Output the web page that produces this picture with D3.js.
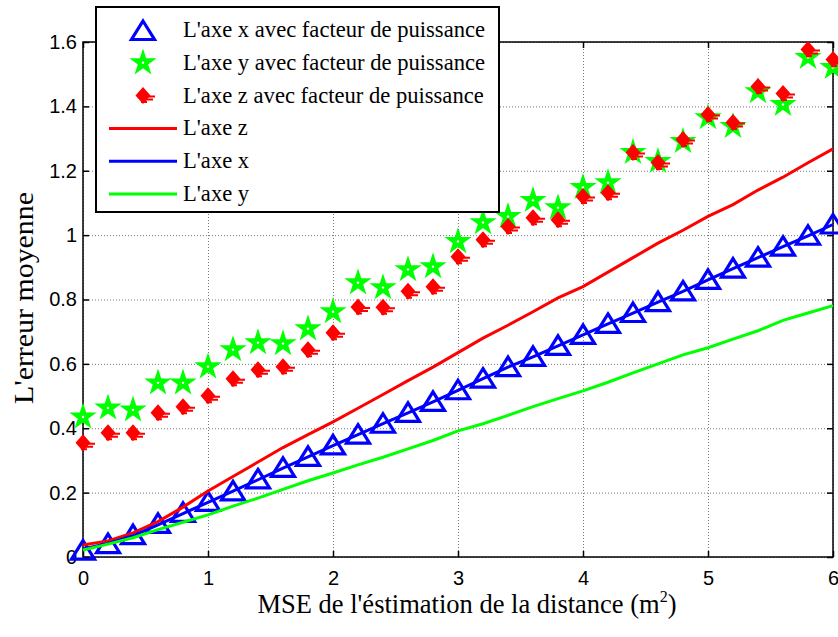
<!DOCTYPE html>
<html>
<head>
<meta charset="utf-8">
<script src="https://cdn.jsdelivr.net/npm/d3@7"></script>
<style>
  body { margin: 0; background: #fff; }
</style>
</head>
<body>
<script>
// x positions (MSE) shared by all series
const mseValues = [0, 0.2, 0.4, 0.6, 0.8, 1, 1.2, 1.4, 1.6, 1.8, 2, 2.2, 2.4, 2.6, 2.8, 3,
    3.2, 3.4, 3.6, 3.8, 4, 4.2, 4.4, 4.6, 4.8, 5, 5.2, 5.4, 5.6, 5.8, 6];

// markers "avec facteur de puissance"
const xPuissance = [0.02, 0.04, 0.068, 0.103, 0.137, 0.171, 0.204, 0.241, 0.277, 0.311, 0.347, 0.38,
    0.414, 0.448, 0.482, 0.518, 0.554, 0.59, 0.622, 0.656, 0.69, 0.724, 0.758, 0.792, 0.825, 0.861,
    0.896, 0.93, 0.964, 0.998, 1.033];
const yPuissance = [0.435, 0.463, 0.457, 0.541, 0.541, 0.591, 0.644, 0.666, 0.663, 0.709, 0.762, 0.852,
    0.837, 0.893, 0.902, 0.98, 1.039, 1.058, 1.108, 1.085, 1.148, 1.163, 1.257, 1.229, 1.291, 1.365,
    1.338, 1.446, 1.406, 1.552, 1.521];
const zPuissance = [0.355, 0.386, 0.386, 0.448, 0.467, 0.501, 0.554, 0.582, 0.591, 0.644, 0.697, 0.777,
    0.776, 0.826, 0.84, 0.933, 0.986, 1.027, 1.054, 1.048, 1.12, 1.132, 1.257, 1.226, 1.297, 1.375,
    1.35, 1.462, 1.44, 1.577, 1.546];

// lines
const zLine = [0.037, 0.05, 0.075, 0.11, 0.155, 0.205, 0.25, 0.295, 0.34, 0.38, 0.42, 0.462, 0.505,
    0.548, 0.59, 0.635, 0.68, 0.72, 0.762, 0.805, 0.84, 0.885, 0.93, 0.975, 1.015, 1.058, 1.095, 1.14,
    1.18, 1.225, 1.268];
const xLine = [0.025, 0.042, 0.066, 0.1, 0.135, 0.17, 0.205, 0.24, 0.276, 0.311, 0.346, 0.38, 0.414,
    0.448, 0.482, 0.518, 0.554, 0.59, 0.622, 0.656, 0.69, 0.724, 0.758, 0.792, 0.825, 0.861, 0.896,
    0.93, 0.964, 0.998, 1.033];
const yLine = [0.022, 0.04, 0.06, 0.085, 0.108, 0.131, 0.158, 0.183, 0.21, 0.237, 0.261, 0.286, 0.31,
    0.336, 0.362, 0.392, 0.414, 0.44, 0.467, 0.492, 0.516, 0.543, 0.572, 0.6, 0.628, 0.65, 0.677,
    0.703, 0.735, 0.758, 0.781];

// ticks
const xTicks = [0, 1, 2, 3, 4, 5, 6];
const xTickLabels = ["0", "1", "2", "3", "4", "5", "6"];
const yTicks = [0, 0.2, 0.4, 0.6, 0.8, 1, 1.2, 1.4, 1.6];
const yTickLabels = ["0", "0.2", "0.4", "0.6", "0.8", "1", "1.2", "1.4", "1.6"];

const legendLabels = [
    "L'axe x avec facteur de puissance",
    "L'axe y avec facteur de puissance",
    "L'axe z avec facteur de puissance",
    "L'axe z",
    "L'axe x",
    "L'axe y"
];

const width = 838;
const height = 637;
const plotLeft = 83, plotRight = 833, plotTop = 42, plotBottom = 557;

const RED = "#ff0000", BLUE = "#0000ff", GREEN = "#00ff00";
const serif = "'Liberation Serif', 'DejaVu Serif', serif";
const sans = "'Liberation Sans', Arial, sans-serif";

const svg = d3.select("body").append("svg")
    .attr("width", width)
    .attr("height", height);

const x = d3.scaleLinear().domain([0, 6]).range([plotLeft, plotRight]);
const y = d3.scaleLinear().domain([0, 1.6]).range([plotBottom, plotTop]);

// grid (dotted)
svg.append("g")
    .attr("transform", `translate(0,${plotBottom})`)
    .call(d3.axisBottom(x).tickValues(xTicks).tickSize(-(plotBottom - plotTop)).tickFormat(""))
    .call(g => g.select(".domain").remove())
    .selectAll("line").attr("stroke", "#777").attr("stroke-dasharray", "1,2");
svg.append("g")
    .attr("transform", `translate(${plotLeft},0)`)
    .call(d3.axisLeft(y).tickValues(yTicks).tickSize(-(plotRight - plotLeft)).tickFormat(""))
    .call(g => g.select(".domain").remove())
    .selectAll("line").attr("stroke", "#777").attr("stroke-dasharray", "1,2");

// axes with inward ticks on all sides
svg.append("g")
    .attr("transform", `translate(0,${plotBottom})`)
    .call(d3.axisBottom(x).tickValues(xTicks).tickSize(-6).tickPadding(14)
        .tickFormat((d, i) => xTickLabels[i]));
svg.append("g")
    .attr("transform", `translate(${plotLeft},0)`)
    .call(d3.axisLeft(y).tickValues(yTicks).tickSize(-6).tickPadding(6)
        .tickFormat((d, i) => yTickLabels[i]));
svg.append("g")
    .attr("transform", `translate(0,${plotTop})`)
    .call(d3.axisTop(x).tickValues(xTicks).tickSize(-6).tickFormat(""));
svg.append("g")
    .attr("transform", `translate(${plotRight},0)`)
    .call(d3.axisRight(y).tickValues(yTicks).tickSize(-6).tickFormat(""));

svg.selectAll(".tick text")
    .attr("font-family", sans)
    .attr("font-size", 20)
    .attr("fill", "#000");
svg.selectAll(".tick line").filter(function() {
    return !this.getAttribute("stroke-dasharray");
}).attr("stroke", "#000").attr("stroke-width", 1.5);
svg.selectAll(".domain").attr("stroke", "none");

// frame
svg.append("rect")
    .attr("x", plotLeft).attr("y", plotTop)
    .attr("width", plotRight - plotLeft).attr("height", plotBottom - plotTop)
    .attr("fill", "none").attr("stroke", "#000").attr("stroke-width", 1.5);

// marker shapes
const triPath = "M0,-10L11.5,8.5L-11.5,8.5Z";
const starPath = d3.symbol().type(d3.symbolStar).size(160)();
const splatPath = "M0,-8.5L7.5,0L0,8.5L-7.5,0Z";
const splatTail = "M3,1H12M1,4H10M-2,6.5H4";

function drawTriangles(g, vals) {
    g.selectAll("path").data(vals).enter().append("path")
        .attr("transform", (d, i) => `translate(${x(mseValues[i])},${y(d)})`)
        .attr("d", triPath)
        .attr("fill", "none").attr("stroke", BLUE).attr("stroke-width", 3.2);
}
function drawStars(g, vals) {
    const s = g.selectAll("g").data(vals).enter().append("g")
        .attr("transform", (d, i) => `translate(${x(mseValues[i])},${y(d)})`);
    s.append("path").attr("d", starPath)
        .attr("fill", GREEN).attr("stroke", GREEN).attr("stroke-width", 1.5);
    s.append("circle").attr("r", 1.2).attr("fill", "#fff");
}
function drawSplats(g, vals) {
    const s = g.selectAll("g").data(vals).enter().append("g")
        .attr("transform", (d, i) => `translate(${x(mseValues[i])},${y(d)})`);
    s.append("path").attr("d", splatPath).attr("fill", RED);
    s.append("path").attr("d", splatTail)
        .attr("stroke", RED).attr("stroke-width", 2);
}

drawTriangles(svg.append("g"), xPuissance);
drawStars(svg.append("g"), yPuissance);
drawSplats(svg.append("g"), zPuissance);

const line = d3.line()
    .x((d, i) => x(mseValues[i]))
    .y(d => y(d));

[[zLine, RED], [xLine, BLUE], [yLine, GREEN]].forEach(([vals, col]) => {
    svg.append("path")
        .datum(vals)
        .attr("d", line)
        .attr("fill", "none")
        .attr("stroke", col)
        .attr("stroke-width", 3);
});

// axis labels
const xLabel = svg.append("text")
    .attr("x", 467).attr("y", 613)
    .attr("text-anchor", "middle")
    .attr("font-family", serif)
    .attr("font-size", 26.5)
    .text("MSE de l'éstimation de la distance (m");
xLabel.append("tspan").attr("font-size", 16).attr("dy", -11).text("2");
xLabel.append("tspan").attr("dy", 11).text(")");

svg.append("text")
    .attr("transform", "translate(33,298) rotate(-90)")
    .attr("text-anchor", "middle")
    .attr("font-family", serif)
    .attr("font-size", 27)
    .attr("textLength", 212)
    .attr("lengthAdjust", "spacingAndGlyphs")
    .text("L'erreur moyenne");

// legend
const legend = svg.append("g");
legend.append("rect")
    .attr("x", 96).attr("y", 7)
    .attr("width", 403).attr("height", 205)
    .attr("fill", "#fff").attr("stroke", "#000").attr("stroke-width", 2);

const rowY = [30, 62.8, 95.6, 128.4, 161.2, 194];
legendLabels.forEach((lab, i) => {
    legend.append("text")
        .attr("x", 183).attr("y", rowY[i] + 7)
        .attr("font-family", serif)
        .attr("font-size", 22.6)
        .text(lab);
});
legend.append("path").attr("transform", `translate(143,${rowY[0] + 1})`)
    .attr("d", triPath).attr("fill", "none").attr("stroke", BLUE).attr("stroke-width", 3.2);
legend.append("path").attr("transform", `translate(143,${rowY[1]})`)
    .attr("d", starPath).attr("fill", GREEN).attr("stroke", GREEN).attr("stroke-width", 1.5);
legend.append("circle").attr("cx", 143).attr("cy", rowY[1]).attr("r", 1.2).attr("fill", "#fff");
legend.append("path").attr("transform", `translate(143,${rowY[2]})`)
    .attr("d", splatPath).attr("fill", RED);
legend.append("path").attr("transform", `translate(143,${rowY[2]})`)
    .attr("d", splatTail).attr("stroke", RED).attr("stroke-width", 2);
[RED, BLUE, GREEN].forEach((col, i) => {
    legend.append("line")
        .attr("x1", 109).attr("x2", 177)
        .attr("y1", rowY[3 + i]).attr("y2", rowY[3 + i])
        .attr("stroke", col).attr("stroke-width", 3);
});
</script>
</body>
</html>
